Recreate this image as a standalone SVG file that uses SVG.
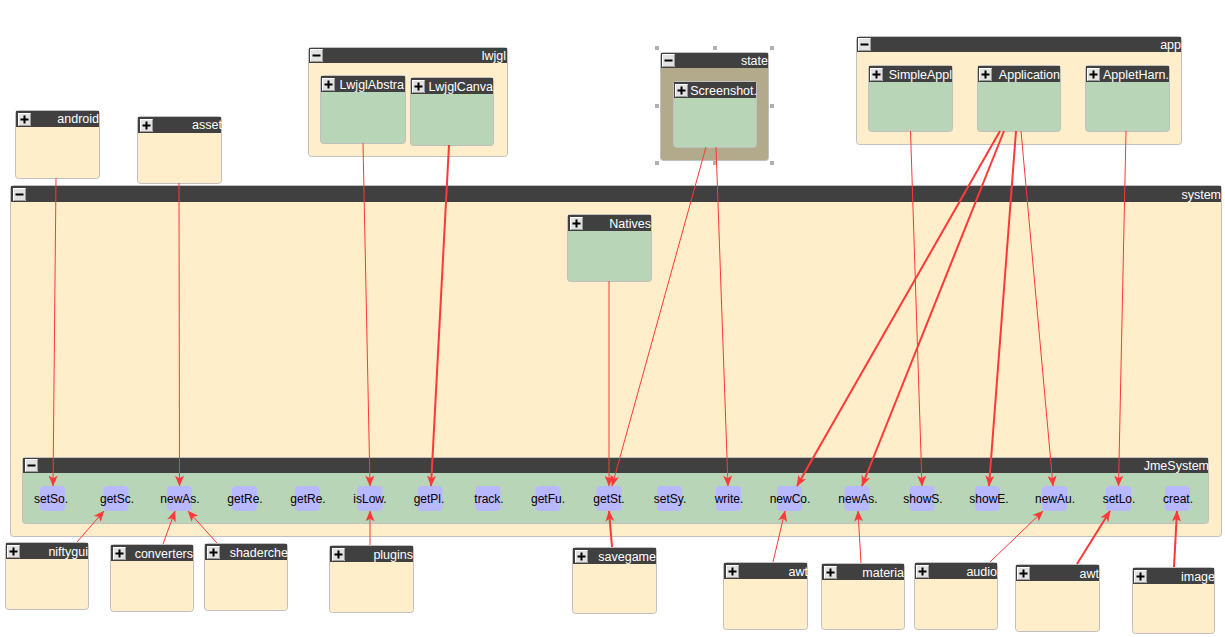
<svg xmlns="http://www.w3.org/2000/svg" width="1225" height="637" viewBox="0 0 1225 637">
<style>
.body{stroke:#c0c0c0;stroke-width:1}
.pkg{fill:#ffeec9}
.cls{fill:#b9d5b8}
.st{fill:#b3a98b}
.hdr{fill:#404040}
.hl{font-family:"Liberation Sans",Arial,sans-serif;font-size:12.5px;fill:#ffffff;text-anchor:end}
.m{fill:#b8b8ff}
.mt{font-family:"Liberation Sans",Arial,sans-serif;font-size:12px;fill:#000;text-anchor:middle}
.e{fill:none;stroke:#ff3838;stroke-width:1;marker-end:url(#ah)}
.t{stroke-width:2}
.hd{fill:#b0b0b0}
</style>
<defs>
<marker id="ah" viewBox="0 0 12 10" refX="11.5" refY="5" markerWidth="12" markerHeight="9" markerUnits="userSpaceOnUse" orient="auto">
<path d="M0,0 L12,5 L0,10 L3,5 z" fill="#ff3838"/>
</marker>
<g id="plus"><rect x="0.5" y="0.5" width="12" height="12" fill="#e2e2e2" stroke="#ffffff"/><path d="M12.5,0.5 V12.5 H0.5" fill="none" stroke="#9a9a9a"/><path d="M2.5,6.5 H10.5 M6.5,2.5 V10.5" stroke="#000" stroke-width="2"/></g>
<g id="minus"><rect x="0.5" y="0.5" width="12" height="12" fill="#e2e2e2" stroke="#ffffff"/><path d="M12.5,0.5 V12.5 H0.5" fill="none" stroke="#9a9a9a"/><path d="M2.5,6.5 H10.5" stroke="#000" stroke-width="2"/></g>
</defs>

<g id="system">
<rect class="body pkg" x="10.5" y="185.5" width="1211" height="351" rx="3"/>
<rect class="hdr" x="11" y="186" width="1210" height="16"/>
<use href="#minus" x="13" y="188"/>
<text class="hl" x="1221" y="199">system</text>
</g>

<g id="Natives">
<rect class="body cls" x="567.5" y="214.5" width="84" height="67" rx="3"/>
<rect class="hdr" x="568" y="215" width="83" height="16"/>
<use href="#plus" x="570" y="217"/>
<text class="hl" x="651" y="228">Natives</text>
</g>

<g id="JmeSystem">
<rect class="body cls" x="22.5" y="457.5" width="1186" height="66" rx="3"/>
<rect class="hdr" x="23" y="458" width="1185" height="15"/>
<use href="#minus" x="25" y="459"/>
<text class="hl" x="1209" y="470">JmeSystem</text>
<g id="methods">
<rect class="m" x="40" y="486" width="25" height="25" rx="4"/><text class="mt" x="51" y="503">setSo.</text>
<rect class="m" x="103.5" y="486" width="25" height="25" rx="4"/><text class="mt" x="117" y="503">getSc.</text>
<rect class="m" x="167" y="486" width="25" height="25" rx="4"/><text class="mt" x="180" y="503">newAs.</text>
<rect class="m" x="232" y="486" width="25" height="25" rx="4"/><text class="mt" x="245" y="503">getRe.</text>
<rect class="m" x="295" y="486" width="25" height="25" rx="4"/><text class="mt" x="308" y="503">getRe.</text>
<rect class="m" x="357.5" y="486" width="25" height="25" rx="4"/><text class="mt" x="370" y="503">isLow.</text>
<rect class="m" x="417.5" y="486" width="25" height="25" rx="4"/><text class="mt" x="429" y="503">getPl.</text>
<rect class="m" x="475.5" y="486" width="25" height="25" rx="4"/><text class="mt" x="489" y="503">track.</text>
<rect class="m" x="535.5" y="486" width="25" height="25" rx="4"/><text class="mt" x="548" y="503">getFu.</text>
<rect class="m" x="596.5" y="486" width="25" height="25" rx="4"/><text class="mt" x="609" y="503">getSt.</text>
<rect class="m" x="657" y="486" width="25" height="25" rx="4"/><text class="mt" x="670" y="503">setSy.</text>
<rect class="m" x="716" y="486" width="25" height="25" rx="4"/><text class="mt" x="729" y="503">write.</text>
<rect class="m" x="777" y="486" width="25" height="25" rx="4"/><text class="mt" x="790" y="503">newCo.</text>
<rect class="m" x="844.5" y="486" width="25" height="25" rx="4"/><text class="mt" x="858" y="503">newAs.</text>
<rect class="m" x="909.5" y="486" width="25" height="25" rx="4"/><text class="mt" x="923" y="503">showS.</text>
<rect class="m" x="975" y="486" width="25" height="25" rx="4"/><text class="mt" x="989" y="503">showE.</text>
<rect class="m" x="1042" y="486" width="25" height="25" rx="4"/><text class="mt" x="1055" y="503">newAu.</text>
<rect class="m" x="1106" y="486" width="25" height="25" rx="4"/><text class="mt" x="1119" y="503">setLo.</text>
<rect class="m" x="1165" y="486" width="25" height="25" rx="4"/><text class="mt" x="1178" y="503">creat.</text>
</g>
</g>

<g id="android">
<rect class="body pkg" x="15.5" y="110.5" width="84" height="68" rx="3"/>
<rect class="hdr" x="16" y="111" width="83" height="16"/>
<use href="#plus" x="18" y="113"/>
<text class="hl" x="99" y="123">android</text>
</g>

<g id="asset">
<rect class="body pkg" x="137.5" y="116.5" width="84" height="67" rx="3"/>
<rect class="hdr" x="138" y="117" width="83" height="16"/>
<use href="#plus" x="140" y="119"/>
<text class="hl" x="222" y="129">asset</text>
</g>

<g id="lwjgl">
<rect class="body pkg" x="308.5" y="47.5" width="199" height="109" rx="3"/>
<rect class="hdr" x="309" y="48" width="198" height="15"/>
<use href="#minus" x="310" y="49"/>
<text class="hl" x="506" y="60">lwjgl</text>
</g>

<g id="LwjglAbstra">
<rect class="body cls" x="320.5" y="75.5" width="85" height="68" rx="3"/>
<rect class="hdr" x="321" y="76" width="84" height="16"/>
<use href="#plus" x="322" y="78"/>
<text class="hl" x="404" y="89">LwjglAbstra</text>
</g>

<g id="LwjglCanva">
<rect class="body cls" x="410.5" y="77.5" width="83" height="68" rx="3"/>
<rect class="hdr" x="411" y="78" width="82" height="16"/>
<use href="#plus" x="412" y="80"/>
<text class="hl" x="493" y="91">LwjglCanva</text>
</g>

<g id="state">
<rect class="body st" x="660.5" y="52.5" width="108" height="108" rx="3"/>
<rect class="hdr" x="661" y="53" width="107" height="15"/>
<use href="#minus" x="662" y="54"/>
<text class="hl" x="768" y="65">state</text>
<rect class="hd" x="655" y="46" width="4" height="4"/>
<rect class="hd" x="713" y="46" width="4" height="4"/>
<rect class="hd" x="770" y="46" width="4" height="4"/>
<rect class="hd" x="655" y="104" width="4" height="4"/>
<rect class="hd" x="770" y="104" width="4" height="4"/>
<rect class="hd" x="655" y="161" width="4" height="4"/>
<rect class="hd" x="713" y="161" width="4" height="4"/>
<rect class="hd" x="770" y="161" width="4" height="4"/>
</g>

<g id="Screenshot">
<rect class="body cls" x="673.5" y="81.5" width="83" height="66" rx="3"/>
<rect class="hdr" x="674" y="82" width="82" height="16"/>
<use href="#plus" x="675" y="84"/>
<text class="hl" x="757" y="95">Screenshot.</text>
</g>

<g id="app">
<rect class="body pkg" x="856.5" y="36.5" width="325" height="108" rx="3"/>
<rect class="hdr" x="857" y="37" width="324" height="15"/>
<use href="#minus" x="858" y="38"/>
<text class="hl" x="1181" y="49">app</text>
</g>

<g id="SimpleAppl">
<rect class="body cls" x="868.5" y="65.5" width="84" height="66" rx="3"/>
<rect class="hdr" x="869" y="66" width="83" height="16"/>
<use href="#plus" x="870" y="68"/>
<text class="hl" x="952" y="79">SimpleAppl</text>
</g>

<g id="Application">
<rect class="body cls" x="977.5" y="65.5" width="83" height="66" rx="3"/>
<rect class="hdr" x="978" y="66" width="82" height="16"/>
<use href="#plus" x="979" y="68"/>
<text class="hl" x="1060" y="79">Application</text>
</g>

<g id="AppletHarn">
<rect class="body cls" x="1085.5" y="65.5" width="84" height="66" rx="3"/>
<rect class="hdr" x="1086" y="66" width="83" height="16"/>
<use href="#plus" x="1087" y="68"/>
<text class="hl" x="1169" y="79">AppletHarn.</text>
</g>

<g id="niftygui">
<rect class="body pkg" x="5.5" y="542.5" width="83" height="67" rx="3"/>
<rect class="hdr" x="6" y="543" width="82" height="16"/>
<use href="#plus" x="7" y="545"/>
<text class="hl" x="88" y="556">niftygui</text>
</g>

<g id="converters">
<rect class="body pkg" x="110.5" y="544.5" width="83" height="67" rx="3"/>
<rect class="hdr" x="111" y="545" width="82" height="16"/>
<use href="#plus" x="113" y="547"/>
<text class="hl" x="193" y="558">converters</text>
</g>

<g id="shaderche">
<rect class="body pkg" x="204.5" y="543.5" width="83" height="67" rx="3"/>
<rect class="hdr" x="205" y="544" width="82" height="16"/>
<use href="#plus" x="207" y="546"/>
<text class="hl" x="288" y="557">shaderche</text>
</g>

<g id="plugins">
<rect class="body pkg" x="329.5" y="545.5" width="84" height="67" rx="3"/>
<rect class="hdr" x="330" y="546" width="83" height="16"/>
<use href="#plus" x="332" y="548"/>
<text class="hl" x="413" y="559">plugins</text>
</g>

<g id="savegame">
<rect class="body pkg" x="572.5" y="547.5" width="84" height="66" rx="3"/>
<rect class="hdr" x="573" y="548" width="83" height="16"/>
<use href="#plus" x="575" y="550"/>
<text class="hl" x="656" y="561">savegame</text>
</g>

<g id="awt1">
<rect class="body pkg" x="723.5" y="562.5" width="84" height="67" rx="3"/>
<rect class="hdr" x="724" y="563" width="83" height="16"/>
<use href="#plus" x="726" y="565"/>
<text class="hl" x="808" y="576">awt</text>
</g>

<g id="materia">
<rect class="body pkg" x="821.5" y="563.5" width="83" height="66" rx="3"/>
<rect class="hdr" x="822" y="564" width="82" height="16"/>
<use href="#plus" x="824" y="566"/>
<text class="hl" x="904" y="577">materia</text>
</g>

<g id="audio">
<rect class="body pkg" x="914.5" y="562.5" width="83" height="67" rx="3"/>
<rect class="hdr" x="915" y="563" width="82" height="16"/>
<use href="#plus" x="916" y="565"/>
<text class="hl" x="997" y="576">audio</text>
</g>

<g id="awt2">
<rect class="body pkg" x="1015.5" y="564.5" width="84" height="67" rx="3"/>
<rect class="hdr" x="1016" y="565" width="83" height="16"/>
<use href="#plus" x="1017" y="567"/>
<text class="hl" x="1099" y="578">awt</text>
</g>

<g id="image">
<rect class="body pkg" x="1132.5" y="567.5" width="82" height="66" rx="3"/>
<rect class="hdr" x="1133" y="568" width="81" height="16"/>
<use href="#plus" x="1134" y="570"/>
<text class="hl" x="1215" y="581">image</text>
</g>

<g id="connectors">
<path class="e" d="M56,178 L53,486"/>
<path class="e" d="M179,183 L179.5,486"/>
<path class="e" d="M363,143 L370,486"/>
<path class="e t" d="M449,145 L431,486"/>
<path class="e" d="M706,147 L612,486"/>
<path class="e" d="M716,147 L728,486"/>
<path class="e" d="M609,281 L609,486"/>
<path class="e" d="M910.5,131 L922,486"/>
<path class="e t" d="M1000,131 L797,486"/>
<path class="e t" d="M1004,131 L862,486"/>
<path class="e t" d="M1016,131 L989,486"/>
<path class="e" d="M1021,131 L1053,486"/>
<path class="e" d="M1126,131 L1118.5,486"/>
<path class="e" d="M77,542 L104,511"/>
<path class="e" d="M163,544 L175,511"/>
<path class="e" d="M217,543 L188,511"/>
<path class="e" d="M370,545 L370,511"/>
<path class="e t" d="M612,547 L609,511"/>
<path class="e" d="M773,562 L785,511"/>
<path class="e" d="M861,563 L858,511"/>
<path class="e" d="M990,562 L1043,511"/>
<path class="e t" d="M1077,564 L1110,511"/>
<path class="e t" d="M1174,567 L1177,511"/>
</g>
</svg>
